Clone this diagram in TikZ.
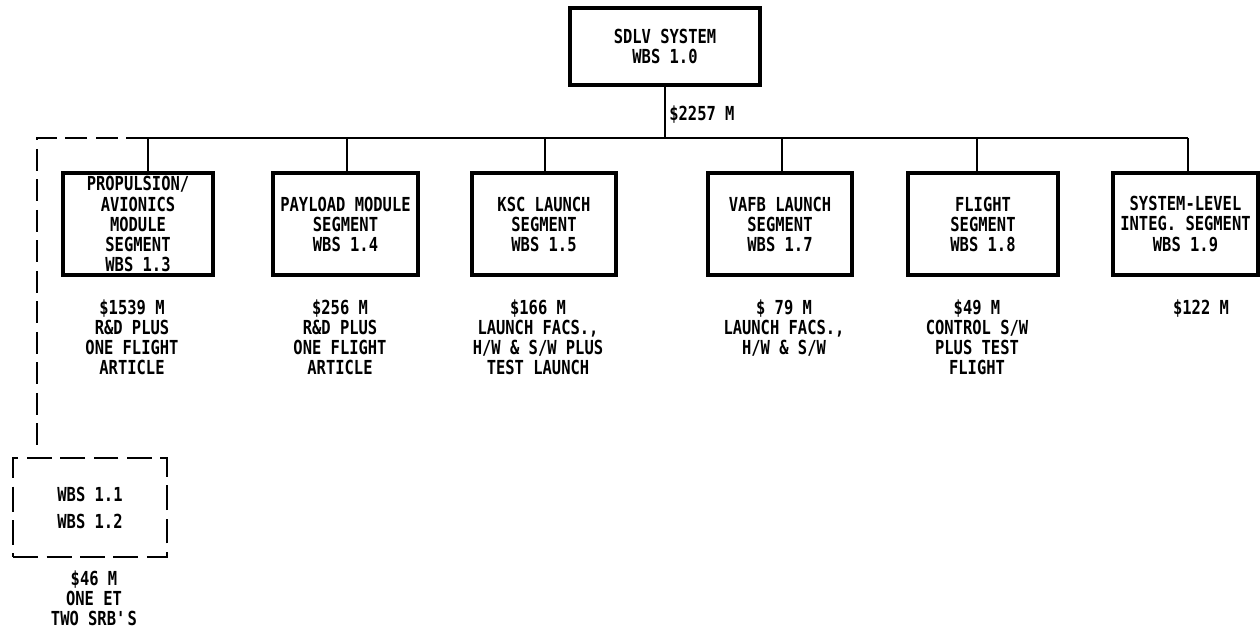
\documentclass[tikz,border=0pt]{standalone}
\usepackage{fontspec}
\setmainfont{DejaVu Sans Mono}[FakeStretch=0.8]
\usepackage{tikz}

\begin{document}
\begin{tikzpicture}[x=0.02cm,y=-0.02cm,
  every node/.style={font=\fontsize{11}{11.4}\selectfont\bfseries,align=center,inner sep=0pt},
  segbox/.style={draw,line width=1.8pt,minimum height=2.04cm},
  dashbox/.style={draw,line width=1.6pt,dash pattern=on 0.5cm off 0.17cm},
  cost/.style={anchor=north},
  link/.style={line width=0.9pt},
  dashlink/.style={line width=1.3pt,dash pattern=on 0.44cm off 0.17cm}]
\useasboundingbox (0,0) rectangle (1260,628);
\node[segbox,minimum width=3.8cm,minimum height=1.54cm](s10) at (665,46.5){SDLV SYSTEM\\WBS 1.0};
\node[segbox,minimum width=3cm](s13) at (138,224){PROPULSION/\\AVIONICS\\MODULE\\SEGMENT\\WBS 1.3};
\node[segbox,minimum width=2.9cm](s14) at (345.5,224){PAYLOAD MODULE\\SEGMENT\\WBS 1.4};
\node[segbox,minimum width=2.88cm](s15) at (544,224){KSC LAUNCH\\SEGMENT\\WBS 1.5};
\node[segbox,minimum width=2.88cm](s17) at (780,224){VAFB LAUNCH\\SEGMENT\\WBS 1.7};
\node[segbox,minimum width=3cm](s18) at (983,224){FLIGHT\\SEGMENT\\WBS 1.8};
\node[segbox,minimum width=2.9cm](s19) at (1185.5,224){SYSTEM-LEVEL\\INTEG. SEGMENT\\WBS 1.9};
\node[dashbox,minimum width=3.08cm,minimum height=1.98cm](s11) at (90,507.5){WBS 1.1\\[4pt]WBS 1.2};
\node[anchor=west](c10) at (669,115){\$2257 M};
\node[cost](c13) at (132,299){\$1539 M\\R\&D PLUS\\ONE FLIGHT\\ARTICLE};
\node[cost](c14) at (340,299){\$256 M\\R\&D PLUS\\ONE FLIGHT\\ARTICLE};
\node[cost](c15) at (538,299){\$166 M\\LAUNCH FACS.,\\H/W \& S/W PLUS\\TEST LAUNCH};
\node[cost](c17) at (784,299){\$ 79 M\\LAUNCH FACS.,\\H/W \& S/W};
\node[cost](c18) at (977,299){\$49 M\\CONTROL S/W\\PLUS TEST\\FLIGHT};
\node[cost](c19) at (1201,299){\$122 M};
\node[cost](c11) at (94,570){\$46 M\\ONE ET\\TWO SRB\textquotesingle S};
% bus taps
\coordinate(bus) at (665,138);
\coordinate(t13) at (148,138);
\coordinate(t14) at (347,138);
\coordinate(t15) at (545,138);
\coordinate(t17) at (782,138);
\coordinate(t18) at (977,138);
\coordinate(t19) at (1188,138);
\coordinate(t11) at (37,138);
\draw[link](s10) -- (bus);
\draw[link](t13) -- (t19);
\draw[link](t13) -- (t13 |- s13.north);
\draw[link](t14) -- (t14 |- s14.north);
\draw[link](t15) -- (t15 |- s15.north);
\draw[link](t17) -- (t17 |- s17.north);
\draw[link](t18) -- (t18 |- s18.north);
\draw[link](t19) -- (t19 |- s19.north);
\draw[dashlink,shorten >=0.24cm](t13) -- (t11) -- (t11 |- s11.north);
\end{tikzpicture}
\end{document}
